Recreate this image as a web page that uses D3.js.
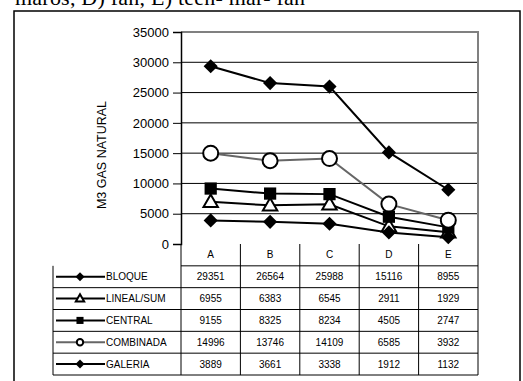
<!DOCTYPE html>
<html>
<head>
<meta charset="utf-8">
<script src="https://cdn.jsdelivr.net/npm/d3@7"></script>
<style>
  body { margin: 0; background: #fff; }
  svg { display: block; }
</style>
</head>
<body>
<div id="chart"></div>
<script>
// data (the table gives the exact values)
const categories = ["A", "B", "C", "D", "E"]
const seriesNames = ["BLOQUE", "LINEAL/SUM", "CENTRAL", "COMBINADA", "GALERIA"]
const bloque = [29351, 26564, 25988, 15116, 8955]
const lineal = [6955, 6383, 6545, 2911, 1929]
const central = [9155, 8325, 8234, 4505, 2747]
const combinada = [14996, 13746, 14109, 6585, 3932]
const galeria = [3889, 3661, 3338, 1912, 1132]
const yTicks = [0, 5000, 10000, 15000, 20000, 25000, 30000, 35000]
const yTitle = "M3 GAS NATURAL"
const caption = "maros, D) fan, E) teen- mar- fan"

const seriesValues = [bloque, lineal, central, combinada, galeria]
const markerKind = ["diamond", "triangle", "square", "circle", "diamond"]
const lineColor = ["#000", "#000", "#000", "#666", "#000"]

const W = 523, H = 381
const plotL = 181, plotR = 478, plotT = 32, plotB = 244
const tableL = 53, tableB = 375

const svg = d3.select("#chart").append("svg")
  .attr("width", W).attr("height", H)

const sans = "'Liberation Sans', Arial, sans-serif"

// caption cut off at the top of the page (only its lower part shows)
svg.append("text")
  .attr("x", 15).attr("y", 5)
  .attr("font-family", "'Liberation Serif', 'Times New Roman', serif")
  .attr("font-size", 22)
  .attr("textLength", 290)
  .text(caption)

// outer frame
svg.append("rect")
  .attr("x", 14).attr("y", 11)
  .attr("width", 506).attr("height", 380)
  .attr("fill", "none").attr("stroke", "#000").attr("stroke-width", 1.5)

const x = d3.scaleBand().domain(categories).range([plotL, plotR])
const y = d3.scaleLinear().domain([0, 35000]).range([plotB, plotT])

// gridlines
svg.append("g").selectAll("line")
  .data(yTicks.filter(t => t > 0 && t < 35000))
  .join("line")
  .attr("x1", plotL).attr("x2", plotR)
  .attr("y1", d => y(d)).attr("y2", d => y(d))
  .attr("stroke", "#000").attr("stroke-width", 1)

// plot border top/right (grey)
svg.append("path")
  .attr("d", `M${plotL},${y(35000)}H${plotR}V${plotB}`)
  .attr("fill", "none").attr("stroke", "#808080").attr("stroke-width", 2)

// y axis
const yAxis = d3.axisLeft(y).tickValues(yTicks).tickSize(8).tickPadding(4).tickFormat(d3.format("d"))
const ya = svg.append("g").attr("transform", `translate(${plotL},0)`).call(yAxis)
ya.select(".domain").attr("stroke", "#000").attr("stroke-width", 1.5)
ya.selectAll(".tick line").attr("stroke", "#000")
ya.selectAll("text").attr("font-family", sans).attr("font-size", 13).attr("fill", "#000")

svg.append("text")
  .attr("transform", `translate(102,${155}) rotate(-90)`)
  .attr("text-anchor", "middle").attr("dominant-baseline", "central")
  .attr("font-family", sans).attr("font-size", 12.5)
  .text(yTitle)

// marker helper
function marker(g, kind, big) {
  if (kind == "diamond") {
    g.append("path").attr("d", d3.symbol(d3.symbolSquare, (big ? 100 : 40))())
      .attr("transform", "rotate(45)").attr("fill", "#000")
  } else if (kind == "square") {
    g.append("path").attr("d", d3.symbol(d3.symbolSquare, big ? 150 : 50)())
      .attr("fill", "#000")
  } else if (kind == "triangle") {
    g.append("path").attr("d", d3.symbol(d3.symbolTriangle, big ? 90 : 30)())
      .attr("transform", big ? "translate(0,1)" : "translate(0,0.5)")
      .attr("fill", "#fff").attr("stroke", "#000").attr("stroke-width", 2)
  } else if (kind == "circle") {
    g.append("circle").attr("r", big ? 7.5 : 3.2)
      .attr("fill", "#fff").attr("stroke", "#000").attr("stroke-width", 2)
  }
}

const cx = d => x(d) + x.bandwidth() / 2

// series lines and markers, drawn in series order
seriesNames.forEach((name, i) => {
  const vals = seriesValues[i]
  const g = svg.append("g")
  g.append("path")
    .datum(categories.map((c, j) => [cx(c), y(vals[j])]))
    .attr("d", d3.line())
    .attr("fill", "none").attr("stroke", lineColor[i]).attr("stroke-width", 2)
  categories.forEach((c, j) => {
    const m = g.append("g").attr("transform", `translate(${cx(c)},${y(vals[j])})`)
    marker(m, markerKind[i], true)
  })
})

// data table
const rows = d3.scaleBand().domain(["head", ...seriesNames]).range([plotB, tableB])
const tg = svg.append("g").attr("font-family", sans).attr("font-size", 10)

// horizontal lines
tg.append("line").attr("x1", plotL).attr("x2", plotR)
  .attr("y1", rows("head") + rows.bandwidth()).attr("y2", rows("head") + rows.bandwidth())
  .attr("stroke", "#000")
seriesNames.forEach(n => {
  const yy = rows(n) + rows.bandwidth()
  tg.append("line").attr("x1", tableL).attr("x2", plotR).attr("y1", yy).attr("y2", yy)
    .attr("stroke", "#000")
})
// vertical lines
tg.append("line").attr("x1", tableL).attr("x2", tableL)
  .attr("y1", rows(seriesNames[0])).attr("y2", tableB).attr("stroke", "#000")
categories.forEach(c => {
  tg.append("line").attr("x1", x(c)).attr("x2", x(c))
    .attr("y1", plotB).attr("y2", tableB).attr("stroke", "#000")
})
tg.append("line").attr("x1", plotR).attr("x2", plotR)
  .attr("y1", plotB).attr("y2", tableB).attr("stroke", "#000")

// header
categories.forEach(c => {
  tg.append("text").attr("x", cx(c)).attr("y", rows("head") + rows.bandwidth() / 2)
    .attr("text-anchor", "middle").attr("dominant-baseline", "central").text(c)
})

// rows
seriesNames.forEach((name, i) => {
  const my = rows(name) + rows.bandwidth() / 2
  tg.append("line").attr("x1", 56).attr("x2", 105).attr("y1", my).attr("y2", my)
    .attr("stroke", lineColor[i]).attr("stroke-width", 2)
  const m = tg.append("g").attr("transform", `translate(80,${my})`)
  marker(m, markerKind[i], false)
  tg.append("text").attr("x", 106).attr("y", my)
    .attr("dominant-baseline", "central").text(name)
  seriesValues[i].forEach((v, j) => {
    tg.append("text").attr("x", cx(categories[j])).attr("y", my)
      .attr("text-anchor", "middle").attr("dominant-baseline", "central").text(v)
  })
})
</script>
</body>
</html>
